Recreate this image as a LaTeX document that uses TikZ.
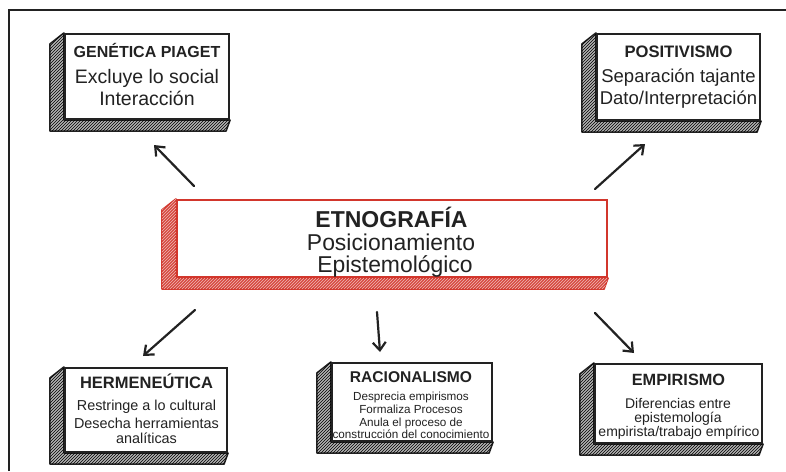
\documentclass[tikz,border=0pt]{standalone}
\usepackage{fontspec}
\setmainfont{Liberation Sans}
\usetikzlibrary{arrows.meta,patterns,calc}
\definecolor{ink}{HTML}{222222}
\definecolor{ered}{HTML}{D2362C}
\tikzset{
  frontbox/.style={draw=ink, line width=2.2pt, fill=white, inner sep=0pt, rectangle},
  redbox/.style={frontbox, draw=ered},
  txt/.style={anchor=base, inner sep=0pt, text=ink},
  conn/.style={draw=ink, line width=2.2pt, line cap=round, -{Straight Barb[length=8pt,width=13pt,line width=2.2pt]}},
}
\newcommand{\fsz}[1]{\fontsize{#1}{#1}\selectfont}
\newcommand{\extrude}[4]{%
  \path[fill=#2, draw=#3, line width=1.5pt, line join=round]
    (#1.north west) -- ++(-14,11) -- ($(#1.south west)+(-14,11)$) -- ($(#1.south east)+(-4,11)$) -- (#1.south east) -- (#1.south west) -- cycle;
  \path[pattern=north east lines, pattern color=#4]
    (#1.north west) -- ++(-14,11) -- ($(#1.south west)+(-14,11)$) -- ($(#1.south east)+(-4,11)$) -- (#1.south east) -- (#1.south west) -- cycle;}
\begin{document}
\begin{tikzpicture}[x=1pt,y=-1pt]
\useasboundingbox (0,0) rectangle (786,471);
\fill[white] (0,0) rectangle (786,471);
% outer frame
\draw[ink, line width=1.5pt] (9,471) -- (9,10) -- (786,10);

% front faces
\node[frontbox, minimum width=164pt, minimum height=85pt] (gen) at (147,76.5) {};
\node[frontbox, minimum width=163pt, minimum height=86pt] (pos) at (678.5,77) {};
\node[redbox, minimum width=430pt, minimum height=77pt] (etno) at (392,238.5) {};
\node[frontbox, minimum width=162pt, minimum height=84pt] (her) at (146,410) {};
\node[frontbox, minimum width=160pt, minimum height=78pt] (rac) at (412,402) {};
\node[frontbox, minimum width=167pt, minimum height=79pt] (emp) at (678.5,403.5) {};

% extrusions
\extrude{gen}{gray!60}{ink}{black}
\extrude{pos}{gray!60}{ink}{black}
\extrude{etno}{ered!90}{ered}{ered!35!white}
\extrude{her}{gray!60}{ink}{black}
\extrude{rac}{gray!60}{ink}{black}
\extrude{emp}{gray!60}{ink}{black}

% texts
\node[txt, font=\fsz{16}\bfseries] (gen1) at (147,57) {GENÉTICA PIAGET};
\node[txt, font=\fsz{19.5}] (gen2) at (147,83) {Excluye lo social};
\node[txt, font=\fsz{19.5}] (gen3) at (147,105) {Interacción};

\node[txt, font=\fsz{16.6}\bfseries] (pos1) at (678.5,57) {POSITIVISMO};
\node[txt, font=\fsz{18.5}] (pos2) at (678.5,82) {Separación tajante};
\node[txt, font=\fsz{18.5}] (pos3) at (678.5,104) {Dato/Interpretación};

\node[txt, font=\fsz{23}\bfseries] (etno1) at (391.5,227) {ETNOGRAFÍA};
\node[txt, font=\fsz{22.9}] (etno2) at (391,250) {Posicionamiento};
\node[txt, font=\fsz{22.9}] (etno3) at (395,272) {Epistemológico};

\node[txt, font=\fsz{16.5}\bfseries] (her1) at (146.5,388) {HERMENEÚTICA};
\node[txt, font=\fsz{14.4}] (her2) at (146.5,410) {Restringe a lo cultural};
\node[txt, font=\fsz{14.4}] (her3) at (146.5,428) {Desecha herramientas};
\node[txt, font=\fsz{14.4}] (her4) at (146.5,443) {analíticas};

\node[txt, font=\fsz{15.6}\bfseries] (rac1) at (411,382) {RACIONALISMO};
\node[txt, font=\fsz{11.7}] (rac2) at (411,400) {Desprecia empirismos};
\node[txt, font=\fsz{11.7}] (rac3) at (411,413) {Formaliza Procesos};
\node[txt, font=\fsz{11.7}] (rac4) at (411,426) {Anula el proceso de};
\node[txt, font=\fsz{11.7}] (rac5) at (411,438) {construcción del conocimiento};

\node[txt, font=\fsz{16.3}\bfseries] (emp1) at (678.5,385) {EMPIRISMO};
\node[txt, font=\fsz{14}] (emp2) at (678,408) {Diferencias entre};
\node[txt, font=\fsz{14}] (emp3) at (678,422) {epistemología};
\node[txt, font=\fsz{14}] (emp4) at (679,436) {empirista/trabajo empírico};

% connectors
\coordinate (a1s) at (194,186); \coordinate (a1e) at (154,145);
\coordinate (a2s) at (595,189); \coordinate (a2e) at (645,144);
\coordinate (a3s) at (195,310); \coordinate (a3e) at (143,356);
\coordinate (a4s) at (377,312); \coordinate (a4e) at (380,352);
\coordinate (a5s) at (595,313); \coordinate (a5e) at (634,353);
\draw[conn] (a1s) -- (a1e);
\draw[conn] (a2s) -- (a2e);
\draw[conn] (a3s) -- (a3e);
\draw[conn] (a4s) -- (a4e);
\draw[conn] (a5s) -- (a5e);
\end{tikzpicture}
\end{document}
